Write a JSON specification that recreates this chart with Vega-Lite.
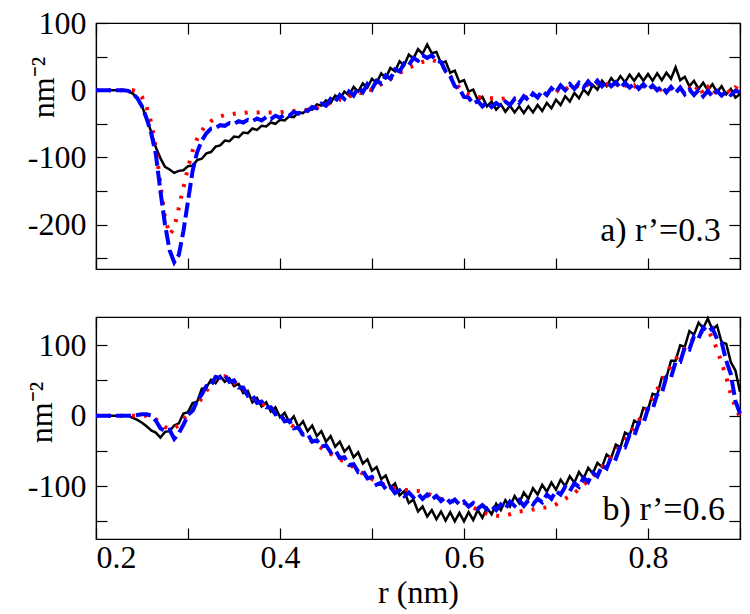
{
  "$schema": "https://vega.github.io/schema/vega-lite/v6.json",
  "background": "white",
  "padding": {"left": 24, "top": 6, "right": 5, "bottom": 5},
  "spacing": 41,
  "config": {
    "font": "Liberation Serif",
    "view": {"stroke": "black", "strokeWidth": 1.2},
    "axis": {
      "labelFont": "Liberation Serif", "titleFont": "Liberation Serif",
      "labelFontSize": 32, "titleFontSize": 32, "titleFontWeight": "normal",
      "labelColor": "black", "titleColor": "black",
      "domainColor": "black", "tickColor": "black", "domainWidth": 1.2, "tickWidth": 1.2,
      "grid": false, "tickSize": -11, "labelPadding": 21
    }
  },
  "datasets": {"curves": [
{"r":0.200,"ak":0,"ar":0,"ab":0,"bk":0,"br":0,"bb":0},
{"r":0.205,"ak":0,"ar":0,"ab":0,"bk":0,"br":0,"bb":0},
{"r":0.210,"ak":0,"ar":0,"ab":0,"bk":0,"br":0,"bb":0},
{"r":0.215,"ak":0,"ar":0,"ab":0,"bk":0,"br":0,"bb":0},
{"r":0.220,"ak":0,"ar":0,"ab":0,"bk":0,"br":0,"bb":0},
{"r":0.225,"ak":0,"ar":0,"ab":0,"bk":0,"br":0,"bb":0},
{"r":0.230,"ak":0,"ar":0,"ab":0,"bk":0,"br":0,"bb":0},
{"r":0.235,"ak":-1,"ar":0,"ab":-1,"bk":0,"br":0,"bb":0},
{"r":0.240,"ak":-5,"ar":0,"ab":-5,"bk":-3,"br":0,"bb":0},
{"r":0.245,"ak":-12,"ar":-2,"ab":-12,"bk":-6,"br":0,"bb":1},
{"r":0.250,"ak":-24,"ar":-10,"ab":-24,"bk":-10,"br":0,"bb":2},
{"r":0.255,"ak":-42,"ar":-25,"ab":-42,"bk":-15,"br":0,"bb":2},
{"r":0.260,"ak":-62,"ar":-48,"ab":-64,"bk":-21,"br":-1,"bb":0},
{"r":0.265,"ak":-85,"ar":-85,"ab":-95,"bk":-24,"br":-5,"bb":-7},
{"r":0.270,"ak":-101,"ar":-140,"ab":-150,"bk":-31,"br":-10,"bb":-18},
{"r":0.275,"ak":-114,"ar":-190,"ab":-200,"bk":-23,"br":-16,"bb":-22},
{"r":0.280,"ak":-118,"ar":-215,"ab":-238,"bk":-22,"br":-19,"bb":-20},
{"r":0.285,"ak":-123,"ar":-205,"ab":-256,"bk":-14,"br":-18,"bb":-33},
{"r":0.290,"ak":-120,"ar":-175,"ab":-245,"bk":-11,"br":-13,"bb":-25},
{"r":0.295,"ak":-119,"ar":-145,"ab":-210,"bk":3,"br":-5,"bb":-13},
{"r":0.300,"ak":-113,"ar":-115,"ab":-165,"bk":5,"br":2,"bb":1},
{"r":0.305,"ak":-112,"ar":-90,"ab":-120,"bk":18,"br":8,"bb":7},
{"r":0.310,"ak":-104,"ar":-72,"ab":-92,"bk":20,"br":15,"bb":21},
{"r":0.315,"ak":-102,"ar":-60,"ab":-75,"bk":38,"br":25,"bb":30},
{"r":0.320,"ak":-94,"ar":-52,"ab":-64,"bk":40,"br":35,"bb":42},
{"r":0.325,"ak":-92,"ar":-46,"ab":-57,"bk":51,"br":44,"bb":43},
{"r":0.330,"ak":-84,"ar":-42,"ab":-56,"bk":46,"br":52,"bb":55},
{"r":0.335,"ak":-82,"ar":-39,"ab":-52,"bk":56,"br":56,"bb":54},
{"r":0.340,"ak":-75,"ar":-37,"ab":-53,"bk":48,"br":56,"bb":58},
{"r":0.345,"ak":-76,"ar":-36,"ab":-49,"bk":53,"br":52,"bb":48},
{"r":0.350,"ak":-69,"ar":-35,"ab":-50,"bk":42,"br":47,"bb":50},
{"r":0.355,"ak":-70,"ar":-34,"ab":-46,"bk":45,"br":42,"bb":40},
{"r":0.360,"ak":-63,"ar":-34,"ab":-48,"bk":32,"br":37,"bb":40},
{"r":0.365,"ak":-64,"ar":-33,"ab":-44,"bk":35,"br":31,"bb":28},
{"r":0.370,"ak":-57,"ar":-33,"ab":-46,"bk":19,"br":25,"bb":29},
{"r":0.375,"ak":-59,"ar":-33,"ab":-42,"bk":25,"br":21,"bb":18},
{"r":0.380,"ak":-53,"ar":-33,"ab":-45,"bk":13,"br":17,"bb":20},
{"r":0.385,"ak":-54,"ar":-33,"ab":-40,"bk":19,"br":13,"bb":12},
{"r":0.390,"ak":-48,"ar":-33,"ab":-43,"bk":6,"br":9,"bb":12},
{"r":0.395,"ak":-50,"ar":-33,"ab":-38,"bk":12,"br":4,"bb":2},
{"r":0.400,"ak":-44,"ar":-33,"ab":-41,"bk":-2,"br":-1,"bb":3},
{"r":0.405,"ak":-45,"ar":-32,"ab":-36,"bk":4,"br":-6,"bb":-8},
{"r":0.410,"ak":-39,"ar":-32,"ab":-38,"bk":-9,"br":-11,"bb":-7},
{"r":0.415,"ak":-40,"ar":-31,"ab":-32,"bk":-1,"br":-16,"bb":-18},
{"r":0.420,"ak":-33,"ar":-30,"ab":-35,"bk":-16,"br":-21,"bb":-17},
{"r":0.425,"ak":-34,"ar":-29,"ab":-29,"bk":-8,"br":-27,"bb":-27},
{"r":0.430,"ak":-28,"ar":-30,"ab":-31,"bk":-22,"br":-32,"bb":-26},
{"r":0.435,"ak":-29,"ar":-27,"ab":-25,"bk":-14,"br":-37,"bb":-37},
{"r":0.440,"ak":-21,"ar":-26,"ab":-27,"bk":-29,"br":-42,"bb":-35},
{"r":0.445,"ak":-23,"ar":-23,"ab":-20,"bk":-22,"br":-46,"bb":-44},
{"r":0.450,"ak":-15,"ar":-22,"ab":-23,"bk":-37,"br":-50,"bb":-42},
{"r":0.455,"ak":-19,"ar":-19,"ab":-13,"bk":-29,"br":-54,"bb":-52},
{"r":0.460,"ak":-8,"ar":-18,"ab":-17,"bk":-44,"br":-58,"bb":-49},
{"r":0.465,"ak":-13,"ar":-14,"ab":-7,"bk":-37,"br":-62,"bb":-60},
{"r":0.470,"ak":-2,"ar":-15,"ab":-13,"bk":-51,"br":-65,"bb":-59},
{"r":0.475,"ak":-8,"ar":-9,"ab":-2,"bk":-44,"br":-69,"bb":-70},
{"r":0.480,"ak":5,"ar":-8,"ab":-8,"bk":-59,"br":-73,"bb":-69},
{"r":0.485,"ak":-2,"ar":-3,"ab":4,"bk":-52,"br":-78,"bb":-80},
{"r":0.490,"ak":10,"ar":-5,"ab":-3,"bk":-68,"br":-82,"bb":-78},
{"r":0.495,"ak":4,"ar":2,"ab":9,"bk":-62,"br":-86,"bb":-89},
{"r":0.500,"ak":17,"ar":0,"ab":2,"bk":-78,"br":-90,"bb":-87},
{"r":0.505,"ak":11,"ar":6,"ab":14,"bk":-73,"br":-93,"bb":-98},
{"r":0.510,"ak":25,"ar":9,"ab":10,"bk":-90,"br":-96,"bb":-95},
{"r":0.515,"ak":18,"ar":12,"ab":22,"bk":-85,"br":-99,"bb":-104},
{"r":0.520,"ak":33,"ar":17,"ab":17,"bk":-102,"br":-101,"bb":-101},
{"r":0.525,"ak":28,"ar":21,"ab":31,"bk":-96,"br":-103,"bb":-110},
{"r":0.530,"ak":43,"ar":26,"ab":28,"bk":-113,"br":-104,"bb":-106},
{"r":0.535,"ak":37,"ar":29,"ab":40,"bk":-107,"br":-105,"bb":-114},
{"r":0.540,"ak":53,"ar":34,"ab":37,"bk":-124,"br":-106,"bb":-109},
{"r":0.545,"ak":47,"ar":36,"ab":48,"bk":-119,"br":-107,"bb":-116},
{"r":0.550,"ak":61,"ar":40,"ab":44,"bk":-136,"br":-107,"bb":-111},
{"r":0.555,"ak":54,"ar":42,"ab":52,"bk":-129,"br":-108,"bb":-118},
{"r":0.560,"ak":68,"ar":44,"ab":48,"bk":-143,"br":-110,"bb":-112},
{"r":0.565,"ak":55,"ar":45,"ab":52,"bk":-134,"br":-113,"bb":-119},
{"r":0.570,"ak":57,"ar":43,"ab":44,"bk":-147,"br":-116,"bb":-114},
{"r":0.575,"ak":40,"ar":38,"ab":42,"bk":-136,"br":-118,"bb":-121},
{"r":0.580,"ak":43,"ar":30,"ab":28,"bk":-149,"br":-120,"bb":-116},
{"r":0.585,"ak":26,"ar":21,"ab":21,"bk":-137,"br":-121,"bb":-123},
{"r":0.590,"ak":29,"ar":12,"ab":6,"bk":-150,"br":-122,"bb":-119},
{"r":0.595,"ak":12,"ar":4,"ab":2,"bk":-138,"br":-123,"bb":-126},
{"r":0.600,"ak":15,"ar":-2,"ab":-10,"bk":-150,"br":-124,"bb":-122},
{"r":0.605,"ak":-2,"ar":-6,"ab":-11,"bk":-137,"br":-126,"bb":-129},
{"r":0.610,"ak":1,"ar":-9,"ab":-20,"bk":-148,"br":-130,"bb":-124},
{"r":0.615,"ak":-15,"ar":-10,"ab":-16,"bk":-134,"br":-134,"bb":-132},
{"r":0.620,"ak":-10,"ar":-11,"ab":-24,"bk":-145,"br":-137,"bb":-127},
{"r":0.625,"ak":-24,"ar":-12,"ab":-18,"bk":-131,"br":-139,"bb":-133},
{"r":0.630,"ak":-17,"ar":-12,"ab":-25,"bk":-140,"br":-141,"bb":-128},
{"r":0.635,"ak":-29,"ar":-11,"ab":-19,"bk":-125,"br":-142,"bb":-134},
{"r":0.640,"ak":-21,"ar":-13,"ab":-24,"bk":-134,"br":-142,"bb":-126},
{"r":0.645,"ak":-32,"ar":-12,"ab":-17,"bk":-120,"br":-141,"bb":-132},
{"r":0.650,"ak":-23,"ar":-10,"ab":-22,"bk":-129,"br":-140,"bb":-122},
{"r":0.655,"ak":-33,"ar":-13,"ab":-13,"bk":-114,"br":-138,"bb":-128},
{"r":0.660,"ak":-24,"ar":-11,"ab":-19,"bk":-124,"br":-136,"bb":-120},
{"r":0.665,"ak":-34,"ar":-9,"ab":-9,"bk":-109,"br":-135,"bb":-128},
{"r":0.670,"ak":-24,"ar":-12,"ab":-15,"bk":-118,"br":-134,"bb":-120},
{"r":0.675,"ak":-33,"ar":-8,"ab":-5,"bk":-103,"br":-133,"bb":-126},
{"r":0.680,"ak":-22,"ar":-9,"ab":-11,"bk":-112,"br":-132,"bb":-118},
{"r":0.685,"ak":-31,"ar":-4,"ab":-1,"bk":-98,"br":-131,"bb":-123},
{"r":0.690,"ak":-19,"ar":-6,"ab":-7,"bk":-108,"br":-130,"bb":-112},
{"r":0.695,"ak":-27,"ar":0,"ab":3,"bk":-95,"br":-129,"bb":-118},
{"r":0.700,"ak":-14,"ar":-3,"ab":-3,"bk":-105,"br":-126,"bb":-107},
{"r":0.705,"ak":-22,"ar":4,"ab":7,"bk":-91,"br":-122,"bb":-112},
{"r":0.710,"ak":-9,"ar":1,"ab":0,"bk":-100,"br":-118,"bb":-101},
{"r":0.715,"ak":-17,"ar":6,"ab":9,"bk":-86,"br":-114,"bb":-107},
{"r":0.720,"ak":-4,"ar":3,"ab":2,"bk":-95,"br":-110,"bb":-96},
{"r":0.725,"ak":-12,"ar":8,"ab":11,"bk":-80,"br":-104,"bb":-101},
{"r":0.730,"ak":1,"ar":4,"ab":4,"bk":-89,"br":-98,"bb":-88},
{"r":0.735,"ak":-6,"ar":9,"ab":13,"bk":-74,"br":-92,"bb":-94},
{"r":0.740,"ak":8,"ar":5,"ab":5,"bk":-82,"br":-86,"bb":-81},
{"r":0.745,"ak":1,"ar":10,"ab":14,"bk":-67,"br":-80,"bb":-86},
{"r":0.750,"ak":14,"ar":6,"ab":6,"bk":-73,"br":-73,"bb":-71},
{"r":0.755,"ak":6,"ar":9,"ab":13,"bk":-55,"br":-66,"bb":-75},
{"r":0.760,"ak":18,"ar":4,"ab":6,"bk":-60,"br":-58,"bb":-58},
{"r":0.765,"ak":10,"ar":10,"ab":12,"bk":-41,"br":-50,"bb":-61},
{"r":0.770,"ak":21,"ar":3,"ab":3,"bk":-45,"br":-42,"bb":-43},
{"r":0.775,"ak":12,"ar":8,"ab":11,"bk":-24,"br":-34,"bb":-45},
{"r":0.780,"ak":23,"ar":2,"ab":4,"bk":-28,"br":-26,"bb":-27},
{"r":0.785,"ak":14,"ar":7,"ab":10,"bk":-7,"br":-16,"bb":-29},
{"r":0.790,"ak":24,"ar":-1,"ab":2,"bk":-11,"br":-7,"bb":-10},
{"r":0.795,"ak":14,"ar":6,"ab":9,"bk":11,"br":3,"bb":-11},
{"r":0.800,"ak":24,"ar":0,"ab":1,"bk":9,"br":13,"bb":10},
{"r":0.805,"ak":14,"ar":5,"ab":7,"bk":31,"br":25,"bb":9},
{"r":0.810,"ak":25,"ar":-4,"ab":0,"bk":29,"br":37,"bb":30},
{"r":0.815,"ak":15,"ar":3,"ab":6,"bk":54,"br":50,"bb":32},
{"r":0.820,"ak":26,"ar":1,"ab":-3,"bk":54,"br":60,"bb":55},
{"r":0.825,"ak":17,"ar":4,"ab":5,"bk":78,"br":71,"bb":54},
{"r":0.830,"ak":34,"ar":-3,"ab":-4,"bk":78,"br":80,"bb":76},
{"r":0.835,"ak":15,"ar":2,"ab":4,"bk":100,"br":88,"bb":76},
{"r":0.840,"ak":20,"ar":-2,"ab":-6,"bk":98,"br":96,"bb":97},
{"r":0.845,"ak":6,"ar":3,"ab":1,"bk":120,"br":103,"bb":94},
{"r":0.850,"ak":14,"ar":-5,"ab":-7,"bk":115,"br":110,"bb":113},
{"r":0.855,"ak":2,"ar":8,"ab":0,"bk":132,"br":116,"bb":110},
{"r":0.860,"ak":11,"ar":-6,"ab":-9,"bk":124,"br":120,"bb":125},
{"r":0.865,"ak":0,"ar":4,"ab":-1,"bk":138,"br":121,"bb":119},
{"r":0.870,"ak":9,"ar":-8,"ab":-9,"bk":122,"br":110,"bb":124},
{"r":0.875,"ak":-3,"ar":2,"ab":-1,"bk":128,"br":94,"bb":109},
{"r":0.880,"ak":6,"ar":-7,"ab":-8,"bk":104,"br":75,"bb":104},
{"r":0.885,"ak":-6,"ar":3,"ab":-2,"bk":102,"br":55,"bb":78},
{"r":0.890,"ak":2,"ar":-5,"ab":-7,"bk":76,"br":30,"bb":59},
{"r":0.895,"ak":-11,"ar":4,"ab":-1,"bk":64,"br":12,"bb":21},
{"r":0.900,"ak":-6,"ar":0,"ab":-3,"bk":34,"br":-2,"bb":3}
  ],
  "labels": [{"panel": "a", "text": "a) r’=0.3"}, {"panel": "b", "text": "b) r’=0.6"}]},
  "vconcat": [
    {
      "width": 644, "height": 246,
      "resolve": {"axis": {"x": "independent", "y": "independent"}},
      "layer": [
        {
          "data": {"name": "curves"},
          "mark": {"type": "line", "color": "black", "strokeWidth": 2.5},
          "encoding": {
            "x": {"field": "r", "type": "quantitative", "scale": {"domain": [0.2, 0.9], "nice": false, "zero": false},
                  "axis": {"orient": "bottom", "values": [0.2,0.3,0.4,0.5,0.6,0.7,0.8,0.9], "labels": false, "title": null}},
            "y": {"field": "ak", "type": "quantitative", "scale": {"domain": [-266, 100], "nice": false, "zero": false},
                  "axis": {"orient": "left", "values": [-250,-200,-150,-100,-50,0,50,100],
                           "labelFont": "Liberation Serif", "titleFont": "Liberation Serif",
                           "labelExpr": "datum.value % 100 === 0 ? '' + datum.value : ''",
                           "title": "nm⁻²", "titleAngle": 270, "titleAlign": "center", "titleBaseline": "alphabetic",
                           "titleX": -43, "titleY": 64,
                           "encode": {"ticks": {"update": {"x2": {"signal": "datum.value % 100 === 0 ? 11 : 6"}}}}}}
          }
        },
        {
          "data": {"name": "curves"},
          "mark": {"type": "line", "color": "#ff0000", "strokeWidth": 4, "strokeDash": [3, 9]},
          "encoding": {
            "x": {"field": "r", "type": "quantitative", "axis": null},
            "y": {"field": "ar", "type": "quantitative", "axis": null}
          }
        },
        {
          "data": {"name": "curves"},
          "mark": {"type": "line", "color": "#0000ff", "strokeWidth": 4, "strokeDash": [15, 5]},
          "encoding": {
            "x": {"field": "r", "type": "quantitative", "axis": null},
            "y": {"field": "ab", "type": "quantitative", "axis": null}
          }
        },
        {
          "data": {"name": "labels"},
          "transform": [{"filter": "datum.panel === 'a'"}],
          "mark": {"type": "text", "align": "right", "baseline": "middle", "font": "Liberation Serif", "fontSize": 34, "color": "black"},
          "encoding": {
            "x": {"datum": 0.879, "type": "quantitative",
                  "axis": {"orient": "top", "values": [0.2,0.3,0.4,0.5,0.6,0.7,0.8,0.9], "labels": false, "title": null}},
            "y": {"datum": -209, "type": "quantitative",
                  "axis": {"orient": "right", "values": [-250,-200,-150,-100,-50,0,50,100], "labels": false, "title": null,
                           "encode": {"ticks": {"update": {"x2": {"signal": "datum.value % 100 === 0 ? -11 : -6"}}}}}},
            "text": {"field": "text"}
          }
        }
      ]
    },
    {
      "width": 644, "height": 222,
      "resolve": {"axis": {"x": "independent", "y": "independent"}},
      "layer": [
        {
          "data": {"name": "curves"},
          "mark": {"type": "line", "color": "black", "strokeWidth": 2.5},
          "encoding": {
            "x": {"field": "r", "type": "quantitative", "scale": {"domain": [0.2, 0.9], "nice": false, "zero": false},
                  "axis": {"orient": "bottom", "values": [0.2,0.3,0.4,0.5,0.6,0.7,0.8,0.9],
                           "labelFont": "Liberation Serif", "titleFont": "Liberation Serif",
                           "labelExpr": "indexof([2,4,6,8], round(datum.value*10)) >= 0 ? format(datum.value, '.1f') : ''",
                           "labelBaseline": "alphabetic", "labelPadding": 39,
                           "title": "r (nm)", "titleBaseline": "alphabetic", "titleY": 63}},
            "y": {"field": "bk", "type": "quantitative", "scale": {"domain": [-175, 140], "nice": false, "zero": false},
                  "axis": {"orient": "left", "values": [-150,-100,-50,0,50,100],
                           "labelFont": "Liberation Serif", "titleFont": "Liberation Serif",
                           "labelExpr": "datum.value % 100 === 0 ? '' + datum.value : ''",
                           "title": "nm⁻²", "titleAngle": 270, "titleAlign": "center", "titleBaseline": "alphabetic",
                           "titleX": -45, "titleY": 95,
                           "encode": {"ticks": {"update": {"x2": {"signal": "datum.value % 100 === 0 ? 11 : 6"}}}}}}
          }
        },
        {
          "data": {"name": "curves"},
          "mark": {"type": "line", "color": "#ff0000", "strokeWidth": 4, "strokeDash": [3, 9]},
          "encoding": {
            "x": {"field": "r", "type": "quantitative", "axis": null},
            "y": {"field": "br", "type": "quantitative", "axis": null}
          }
        },
        {
          "data": {"name": "curves"},
          "mark": {"type": "line", "color": "#0000ff", "strokeWidth": 4, "strokeDash": [15, 5]},
          "encoding": {
            "x": {"field": "r", "type": "quantitative", "axis": null},
            "y": {"field": "bb", "type": "quantitative", "axis": null}
          }
        },
        {
          "data": {"name": "labels"},
          "transform": [{"filter": "datum.panel === 'b'"}],
          "mark": {"type": "text", "align": "right", "baseline": "middle", "font": "Liberation Serif", "fontSize": 34, "color": "black"},
          "encoding": {
            "x": {"datum": 0.8837, "type": "quantitative",
                  "axis": {"orient": "top", "values": [0.2,0.3,0.4,0.5,0.6,0.7,0.8,0.9], "labels": false, "title": null}},
            "y": {"datum": -134, "type": "quantitative",
                  "axis": {"orient": "right", "values": [-150,-100,-50,0,50,100], "labels": false, "title": null,
                           "encode": {"ticks": {"update": {"x2": {"signal": "datum.value % 100 === 0 ? -11 : -6"}}}}}},
            "text": {"field": "text"}
          }
        }
      ]
    }
  ]
}
